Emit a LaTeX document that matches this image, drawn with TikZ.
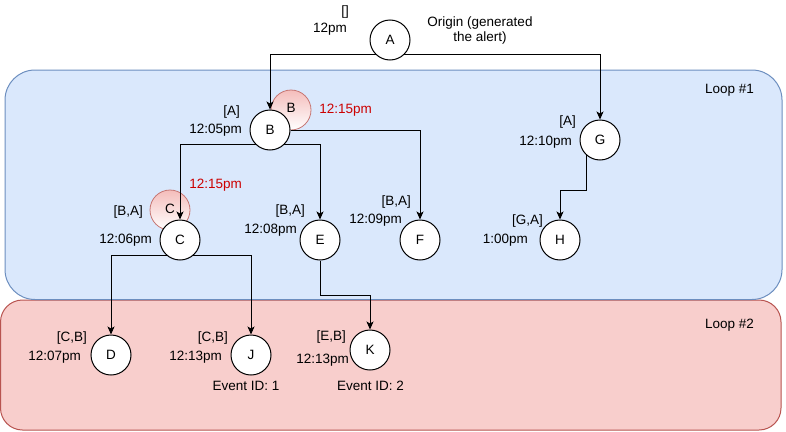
\documentclass[tikz,border=0pt]{standalone}
\usepackage{fontspec}
\setmainfont{Liberation Sans}
\usetikzlibrary{arrows.meta,calc}
\definecolor{bluefill}{HTML}{DAE8FC}
\definecolor{bluestroke}{HTML}{6C8EBF}
\definecolor{redfill}{HTML}{F8CECC}
\definecolor{redstroke}{HTML}{B85450}
\definecolor{ghosttop}{HTML}{F4BDBB}
\definecolor{redtext}{HTML}{CC0000}
\pgfdeclarelayer{bg}
\pgfdeclarelayer{ghostl}
\pgfdeclarelayer{edgel}
\pgfsetlayers{bg,ghostl,edgel,main}
\begin{document}
\begin{tikzpicture}[x=1pt,y=-1pt,
  font=\fontsize{13.5}{15}\selectfont,
  vtx/.style={circle,draw=black,fill=white,line width=1pt,minimum size=40pt,inner sep=0pt},
  ghost/.style={circle,draw=redstroke!80,line width=0.8pt,top color=ghosttop,bottom color=white,minimum size=40pt,inner sep=0pt},
  lbl/.style={inner sep=0pt,anchor=base east},
  clbl/.style={inner sep=0pt,anchor=base},
  edge/.style={line width=1pt,-{Stealth[length=8pt,width=7pt,inset=2pt]}},
  plain/.style={line width=1pt}]
\useasboundingbox (0,0) rectangle (786,431);

% regions
\begin{pgfonlayer}{bg}
\draw[redstroke,fill=redfill,line width=1pt,rounded corners=22pt] (0.5,300) rectangle (781,430);
\draw[bluestroke,fill=bluefill,line width=1pt,rounded corners=30pt] (5,70) rectangle (782,299.5);
\end{pgfonlayer}
\node[lbl] (loop1) at (754,93) {Loop \#1};
\node[lbl] (loop2) at (754,328) {Loop \#2};

% ghosts
\begin{pgfonlayer}{ghostl}
\node[ghost] (gB) at (291,110) {};
\node[ghost] (gC) at (170,210) {};
\end{pgfonlayer}
\node[inner sep=0pt] (gBt) at (291,108) {B};
\node[inner sep=0pt] (gCt) at (170,209) {C};
\node[lbl,text=redtext] (tB) at (372,113) {12:15pm};
\node[lbl,text=redtext] (tC) at (242,188) {12:15pm};

% vertices
\node[vtx] (A) at (390,40) {A};
\node[vtx] (B) at (270,130) {B};
\node[vtx] (G) at (600,140) {G};
\node[vtx] (C) at (180,240) {C};
\node[vtx] (E) at (320,240) {E};
\node[vtx] (F) at (420,240) {F};
\node[vtx] (H) at (560,240) {H};
\node[vtx] (D) at (111,355) {D};
\node[vtx] (J) at (251,355) {J};
\node[vtx] (K) at (370,350) {K};

% labels
\node[clbl] (la1) at (345,16) {[]};
\node[lbl] (la2) at (347,32) {12pm};
\node[clbl] (orig1) at (480,27) {Origin (generated};
\node[clbl] (orig2) at (480,41) {the alert)};
\node[lbl] (lb1) at (240,115) {[A]};
\node[lbl] (lb2) at (242,133) {12:05pm};
\node[lbl] (lg1) at (576,125) {[A]};
\node[lbl] (lg2) at (572,145) {12:10pm};
\node[lbl] (lc1) at (143,215) {[B,A]};
\node[lbl] (lc2) at (152,243) {12:06pm};
\node[lbl] (le1) at (305,214) {[B,A]};
\node[lbl] (le2) at (297,233) {12:08pm};
\node[lbl] (lf1) at (411,205) {[B,A]};
\node[lbl] (lf2) at (402,223) {12:09pm};
\node[lbl] (lh1) at (543,224) {[G,A]};
\node[lbl] (lh2) at (528,243) {1:00pm};
\node[lbl] (ld1) at (87,341) {[C,B]};
\node[lbl] (ld2) at (81,360) {12:07pm};
\node[lbl] (lj1) at (228,341) {[C,B]};
\node[lbl] (lj2) at (222,360) {12:13pm};
\node[lbl] (lk1) at (346,340) {[E,B]};
\node[lbl] (lk2) at (349,363) {12:13pm};
\node[clbl] (ev1) at (246,390) {Event ID: 1};
\node[clbl] (ev2) at (370.5,390) {Event ID: 2};

% edges
\begin{pgfonlayer}{edgel}
\draw[edge] ([yshift=-14pt]A.center) -| (B);
\draw[edge] ([yshift=-14pt]A.center) -| (G);
\draw[edge] ([yshift=-14pt]B.center) -| (C);
\draw[edge] ([yshift=-14pt]B.center) -| (E);
\draw[edge] (B.east) -| (F);
\draw[edge] ([xshift=-14pt]G.center) -- ++(0,50) -| (H);
\draw[edge] ([yshift=-15pt]C.center) -| (D);
\draw[edge] ([yshift=-15pt]C.center) -| (J);
\draw[edge] (E.south) -- ++(0,35) -| (K);
\end{pgfonlayer}
\end{tikzpicture}
\end{document}
